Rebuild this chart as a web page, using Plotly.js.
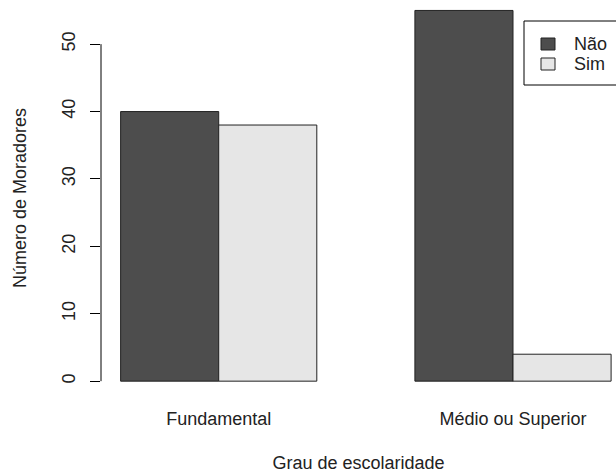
<!DOCTYPE html>
<html>
<head>
<meta charset="utf-8">
<script src="https://cdn.plot.ly/plotly-3.0.1.min.js"></script>
<style>html,body{margin:0;padding:0;background:#fff;overflow:hidden}#chart{width:616px;height:473px}</style>
</head>
<body>
<div id="chart"></div>
<script>
const categories = ["Fundamental", "Médio ou Superior"];
const naoValues = [40, 55];
const simValues = [38, 4];
const seriesNames = ["Não", "Sim"];
const seriesColors = ["#4d4d4d", "#e6e6e6"];
const yTicks = [0, 10, 20, 30, 40, 50];

const font = "Liberation Sans, Arial, sans-serif";
const ML = 101, MB = 77, W = 616, H = 473;
const PW = W - ML, PH = H - MB;
const px = v => (v - ML) / PW;       // pixel -> paper x
const py = v => 1 - v / PH;          // pixel -> paper y

const traces = [
  {type: "bar", name: seriesNames[0], x: categories, y: naoValues, showlegend: false,
   marker: {color: seriesColors[0], line: {color: "#222", width: 1}}},
  {type: "bar", name: seriesNames[1], x: categories, y: simValues, showlegend: false,
   marker: {color: seriesColors[1], line: {color: "#222", width: 1}}}
];

const shapes = [{type: "line", xref: "paper", yref: "y", x0: 0, x1: 0, y0: 0, y1: 50,
    line: {color: "#000", width: 1}},
  {type: "rect", xref: "paper", yref: "paper", x0: px(524), x1: px(640), y0: py(21), y1: py(85),
    line: {color: "#000", width: 1}, fillcolor: "#fff", layer: "above"}];
const annotations = [];
seriesNames.forEach((name, i) => {
  const cy = 44 + i * 20;
  shapes.push({type: "rect", xref: "paper", yref: "paper", x0: px(541), x1: px(555),
    y0: py(cy - 6), y1: py(cy + 6), fillcolor: seriesColors[i],
    line: {color: "#222", width: 1}, layer: "above"});
  annotations.push({xref: "paper", yref: "paper", x: px(572), y: py(cy), xanchor: "left",
    yanchor: "middle", text: name, showarrow: false,
    font: {family: font, size: 18, color: "#222"}});
});

const layout = {
  width: W, height: H,
  margin: {l: ML, r: 0, t: 0, b: MB},
  paper_bgcolor: "#fff", plot_bgcolor: "#fff",
  font: {family: font, size: 18, color: "#222"},
  barmode: "group", bargap: 1/3, bargroupgap: 0,
  showlegend: false,
  xaxis: {type: "category", range: [-0.4, 1.35], showline: false, showgrid: false,
    zeroline: false, ticks: "", ticklabelstandoff: 10,
    title: {text: "Grau de escolaridade", standoff: 28, font: {size: 18}}},
  yaxis: {range: [-2.2, 56.55], tickvals: yTicks, ticktext: yTicks.map(String),
    ticks: "outside", ticklen: 10, tickcolor: "#000", tickwidth: 1,
    tickangle: -90, showline: false, showgrid: false, zeroline: false,
    ticklabelstandoff: 8,
    title: {text: "Número de Moradores", standoff: 27, font: {size: 18}}},
  shapes: shapes,
  annotations: annotations
};
Plotly.newPlot("chart", traces, layout, {displayModeBar: false, staticPlot: true});
</script>
</body>
</html>
